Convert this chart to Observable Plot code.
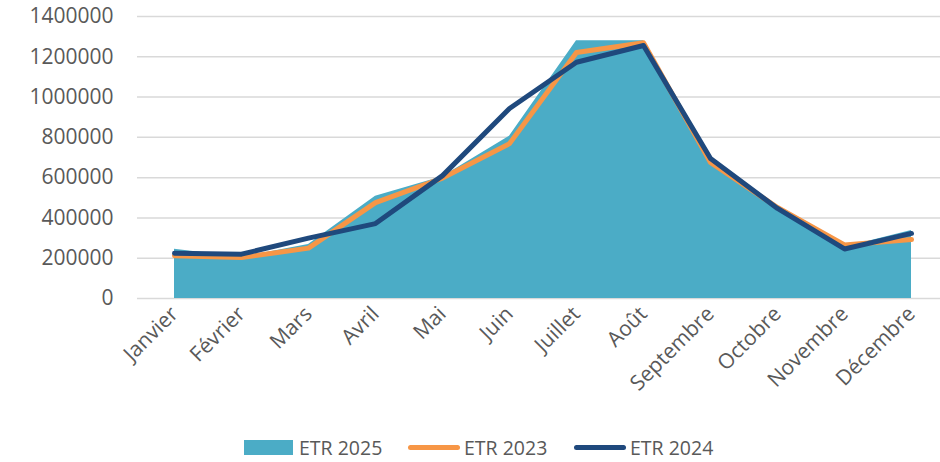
<!DOCTYPE html>
<html><head><meta charset="utf-8">
<script src="https://cdn.jsdelivr.net/npm/d3@7"></script>
<script src="https://cdn.jsdelivr.net/npm/@observablehq/plot@0.6"></script>
<style>
body{margin:0;background:#fff;font-family:"Open Sans",sans-serif;width:940px;height:462px;overflow:hidden;}
#legend{position:relative;height:37px;font-size:19.5px;color:#595959;}
.item{position:absolute;top:9px;display:flex;align-items:center;height:26px;}
.sw-rect{width:49px;height:15px;background:#4BACC6;margin-right:6px;}
.sw-line{width:52px;height:5px;border-radius:3px;margin-right:4px;}
</style>
</head><body>
<div id="chart"></div>
<div id="legend"></div>
<script>
const months = ["Janvier","Février","Mars","Avril","Mai","Juin","Juillet","Août","Septembre","Octobre","Novembre","Décembre"];
const etr2025 = [245000, 205000, 268000, 508000, 605000, 805000, 1280000, 1280000, 680000, 450000, 255000, 338000];
const etr2023 = [212000, 203000, 250000, 476000, 598000, 769000, 1221000, 1270000, 675000, 452000, 266000, 293000];
const etr2024 = [225000, 220000, 300000, 372000, 610000, 943000, 1173000, 1256000, 695000, 447000, 246000, 323000];
const yTicks = [0, 200000, 400000, 600000, 800000, 1000000, 1200000, 1400000];
const seriesNames = ["ETR 2025", "ETR 2023", "ETR 2024"];
const seriesColors = ["#4BACC6", "#F79646", "#1F497D"];

const toRows = vals => months.map((m, i) => ({month: m, value: vals[i]}));
const d25 = toRows(etr2025), d23 = toRows(etr2023), d24 = toRows(etr2024);

const chart = Plot.plot({
  width: 940, height: 425,
  marginLeft: 137, marginRight: 0, marginTop: 16, marginBottom: 127,
  style: {fontSize: "21px", fontFamily: "'Open Sans', sans-serif", color: "#595959", background: "#fff"},
  x: {type: "point", domain: months, range: [171, 913], padding: 0, label: null},
  y: {domain: [0, 1400000], label: null},
  marks: [
    Plot.ruleY(yTicks, {stroke: "#D9D9D9", strokeWidth: 1.5}),
    Plot.areaY(d25, {x: "month", y: "value", fill: seriesColors[0]}),
    Plot.lineY(d23, {x: "month", y: "value", stroke: seriesColors[1], strokeWidth: 5}),
    Plot.lineY(d24, {x: "month", y: "value", stroke: seriesColors[2], strokeWidth: 5, strokeLinecap: "round"}),
    Plot.axisY(yTicks, {tickSize: 0, tickPadding: 24, tickFormat: d3.format("d"), label: null, fill: "#595959"}),
    Plot.axisX({tickSize: 0, tickPadding: 12, tickRotate: -45, label: null, fill: "#595959"})
  ]
});
document.getElementById("chart").appendChild(chart);

const legend = document.getElementById("legend");
const lefts = [244, 408, 574];
seriesNames.forEach((name, i) => {
  const it = document.createElement("div");
  it.className = "item";
  it.style.left = lefts[i] + "px";
  const sw = document.createElement("div");
  if (i === 0) { sw.className = "sw-rect"; }
  else { sw.className = "sw-line"; sw.style.background = seriesColors[i]; }
  it.appendChild(sw);
  const t = document.createElement("span");
  t.textContent = name;
  it.appendChild(t);
  legend.appendChild(it);
});
</script>
</body></html>
